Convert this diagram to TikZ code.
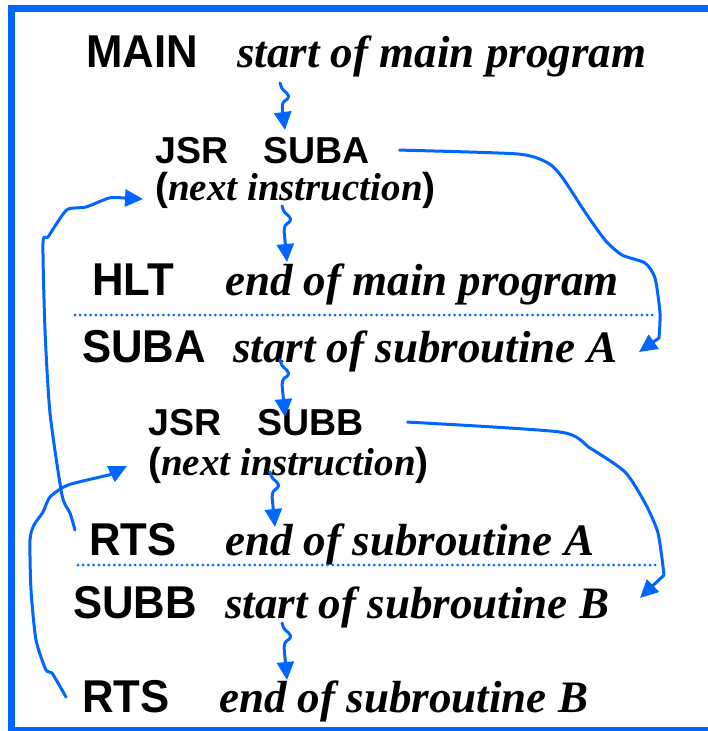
\documentclass[tikz,border=0pt]{standalone}
\usepackage{fontspec}
\usetikzlibrary{arrows.meta}
\newfontfamily\opfont{Liberation Sans}[FakeStretch=0.95]
\newfontfamily\insfont{Liberation Sans}
\newfontfamily\cmtfont{Liberation Serif}
\definecolor{flowblue}{RGB}{0,102,255}
\tikzset{
  op/.style={font=\opfont\bfseries\fontsize{46}{46}\selectfont, inner sep=0pt, anchor=base west},
  ins/.style={font=\insfont\bfseries\fontsize{37.5}{40}\selectfont, inner sep=0pt, anchor=base west},
  cmt/.style={font=\cmtfont\bfseries\itshape\fontsize{45}{46}\selectfont, inner sep=0pt, anchor=base west},
  nxt/.style={font=\insfont\bfseries\fontsize{39}{40}\selectfont, inner sep=0pt, anchor=base west},
  flow/.style={draw=flowblue, line width=3pt, line join=round, line cap=round},
  bigtip/.style={-{Triangle[length=18pt,width=17pt]}},
  sep/.style={draw=flowblue, line width=3pt, line cap=round, dash pattern=on 0pt off 5.2pt}
}
\newcommand\nxtext{(\cmtfont\itshape next instruction\insfont\upshape)}
% short wavy arrow from one step to the next
\newcommand\squiggle[2]{\draw[flow,bigtip,rounded corners=2.5pt] (#1) -- ++(2,6) -- ++(6,5) -- ++(1,4) -- ++(-6,4) -- ++(-1,5) -- (#2);}
\begin{document}
\begin{tikzpicture}[x=1pt,y=-1pt]
\useasboundingbox (0,0) rectangle (707,731);
% frame
\draw[flowblue, line width=7pt, line join=miter] (712,8.5) -- (11.5,8.5) -- (11.5,730.5) -- (712,730.5);

% main program
\node[op]  (main)  at (86,67)   {MAIN};
\node[cmt] (mainc) at (237,67)  {start of main program};
\node[ins] (jsra)  at (155,163) {JSR\hspace{35pt}SUBA};
\node[nxt] (nexta) at (155,200) {\nxtext};
\node[op]  (hlt)   at (92,295)  {HLT};
\node[cmt] (hltc)  at (225,295) {end of main program};
% subroutine A
\node[op]  (suba)  at (82,362)  {SUBA};
\node[cmt] (subac) at (233,362) {start of subroutine A};
\node[ins] (jsrb)  at (148,435) {JSR\hspace{36pt}SUBB};
\node[nxt] (nextb) at (148,475) {\nxtext};
\node[op]  (rtsa)  at (89,555)  {RTS};
\node[cmt] (rtsac) at (225,555) {end of subroutine A};
% subroutine B
\node[op]  (subb)  at (73,618)  {SUBB};
\node[cmt] (subbc) at (225,618) {start of subroutine B};
\node[op]  (rtsb)  at (82,712)  {RTS};
\node[cmt] (rtsbc) at (219,712) {end of subroutine B};

% separators between the routines
\coordinate (s1a) at (75,315);  \coordinate (s1b) at (655,315);
\coordinate (s2a) at (78,565);  \coordinate (s2b) at (660,565);
\draw[sep] (s1a) -- (s1b);
\draw[sep] (s2a) -- (s2b);

% sequential flow
\coordinate (w1a) at (280,83);  \coordinate (w1b) at (285,130);
\coordinate (w2a) at (282,206); \coordinate (w2b) at (287,262);
\coordinate (w3a) at (280,360); \coordinate (w3b) at (285,417);
\coordinate (w4a) at (270,472); \coordinate (w4b) at (275,527);
\coordinate (w5a) at (282,623); \coordinate (w5b) at (287,680);
\squiggle{w1a}{w1b}
\squiggle{w2a}{w2b}
\squiggle{w3a}{w3b}
\squiggle{w4a}{w4b}
\squiggle{w5a}{w5b}

% calls
\coordinate (ca1) at ([xshift=30pt]jsra.east);
\coordinate (ca2) at (639,352);
\draw[flow,bigtip] plot[smooth,tension=0.4] coordinates {(ca1) (518,154) (548,163) (562,177) (585,212) (605,240) (622,255) (645,263) (655,278) (660,313) (659,338)} -- (ca2);
\coordinate (cb1) at ([xshift=44pt]jsrb.east);
\coordinate (cb2) at (640,598);
\draw[flow,bigtip] plot[smooth,tension=0.4] coordinates {(cb1) (560,432) (590,448) (625,472) (645,503) (658,533) (664,575)} -- (cb2);

% returns
\coordinate (ra1) at ([shift={(-14,-25)}]rtsa.base west);
\coordinate (ra2) at ([shift={(-12,-1)}]nexta.base west);
\draw[flow,bigtip] plot[smooth,tension=0.4] coordinates {(ra1) (70,513) (62,495) (50,413) (45,330) (43,243) (48,237) (59,220) (68,209) (86,207) (109,198) (124,198)} -- (ra2);
\coordinate (rb1) at ([shift={(-16,-15)}]rtsb.base west);
\coordinate (rb2) at ([shift={(-21,-9)}]nextb.base west);
\draw[flow,bigtip] plot[smooth,tension=0.4] coordinates {(rb1) (52,673) (46,670) (36,640) (31,590) (30,540) (34,525) (43,512) (50,497) (68,485) (109,475)} -- (rb2);
\end{tikzpicture}
\end{document}
